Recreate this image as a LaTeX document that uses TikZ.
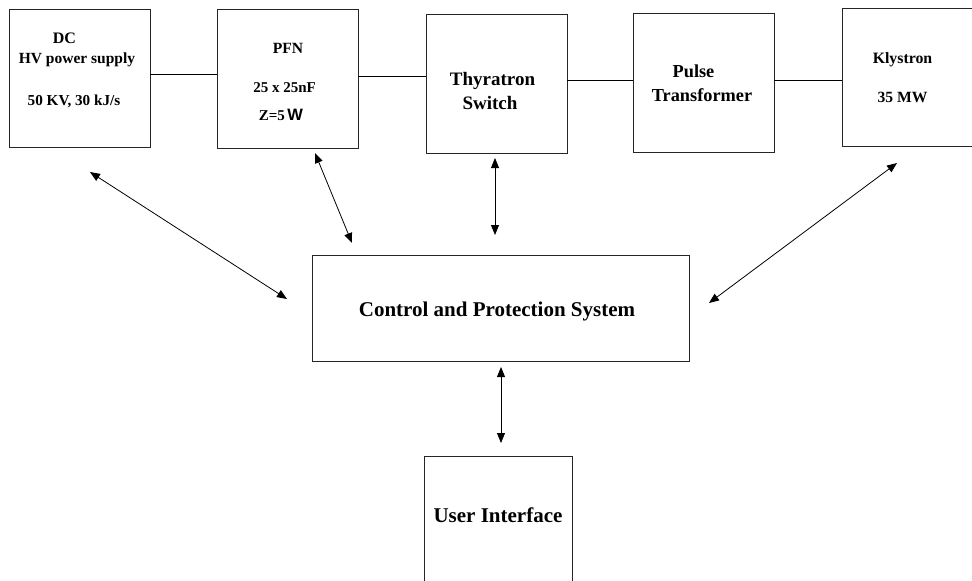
\documentclass[tikz,border=0pt]{standalone}
\usepackage{fontspec}
\setmainfont{Liberation Serif}
\newfontfamily\wsans{Liberation Sans}
\usetikzlibrary{arrows.meta}
\begin{document}
\begin{tikzpicture}[x=1pt,y=-1pt,
  box/.style={draw=black!85, line width=0.85pt, rectangle, inner sep=0pt, outer sep=0pt},
  lbl/.style={anchor=base, inner sep=0pt, outer sep=0pt, font=\bfseries},
  link/.style={line width=0.8pt},
  biarrow/.style={line width=0.8pt, {Triangle[length=10pt,width=8pt]}-{Triangle[length=10pt,width=8pt]}}]
\clip (0,0) rectangle (972,581);
\fill[white] (0,0) rectangle (972,581);

% boxes
\node[box, minimum width=141pt, minimum height=138pt] (dc) at (79.5,78) {};
\node[box, minimum width=141pt, minimum height=139pt] (pfn) at (287.5,78.5) {};
\node[box, minimum width=141pt, minimum height=139pt] (thy) at (496.5,83.5) {};
\node[box, minimum width=141pt, minimum height=139pt] (pulse) at (703.5,82.5) {};
\node[box, minimum width=143pt, minimum height=138pt] (kly) at (913.5,77) {};
\node[box, minimum width=377pt, minimum height=106pt] (cps) at (500.5,308) {};
\node[box, minimum width=148pt, minimum height=144pt] (ui) at (498,528) {};

% texts
\node[lbl, font=\bfseries\fontsize{16}{18}\selectfont] (t1) at (64.5,43) {DC};
\node[lbl, font=\bfseries\fontsize{15.5}{18}\selectfont] (t2) at (77,63) {HV power supply};
\node[lbl, font=\bfseries\fontsize{15.2}{18}\selectfont] (t3) at (74,105) {50 KV, 30 kJ/s};
\node[lbl, font=\bfseries\fontsize{15.6}{18}\selectfont] (t4) at (288,53) {PFN};
\node[lbl, font=\bfseries\fontsize{15}{18}\selectfont] (t5) at (284.5,92) {25 x 25nF};
\node[lbl, font=\bfseries\fontsize{15}{18}\selectfont] (t6) at (281,120) {Z=5\,{\wsans\fontsize{16.5}{18}\selectfont W}};
\node[lbl, font=\bfseries\fontsize{19}{22}\selectfont] (t7) at (492.5,85) {Thyratron};
\node[lbl, font=\bfseries\fontsize{19}{22}\selectfont] (t8) at (490,109) {Switch};
\node[lbl, font=\bfseries\fontsize{18.3}{22}\selectfont] (t9) at (693.5,77) {Pulse};
\node[lbl, font=\bfseries\fontsize{18.3}{22}\selectfont] (t10) at (702,101) {Transformer};
\node[lbl, font=\bfseries\fontsize{15.8}{18}\selectfont] (t11) at (902.5,63) {Klystron};
\node[lbl, font=\bfseries\fontsize{15.6}{18}\selectfont] (t12) at (902.5,102) {35 MW};
\node[lbl, font=\bfseries\fontsize{21}{24}\selectfont] (t13) at (497,316) {Control and Protection System};
\node[lbl, font=\bfseries\fontsize{21}{24}\selectfont] (t14) at (498,522) {User Interface};

% horizontal links
\coordinate (h1) at (0,74);
\coordinate (h2) at (0,76);
\coordinate (h3) at (0,80);
\draw[link] (dc.east |- h1) -- (pfn.west |- h1);
\draw[link] (pfn.east |- h2) -- (thy.west |- h2);
\draw[link] (thy.east |- h3) -- (pulse.west |- h3);
\draw[link] (pulse.east |- h3) -- (kly.west |- h3);

% bidirectional arrows
\coordinate (a1s) at (90,172);  \coordinate (a1e) at (287,299);
\coordinate (a2s) at (315,153); \coordinate (a2e) at (352,243);
\coordinate (a3s) at (495,158); \coordinate (a3e) at (495,235);
\coordinate (a4s) at (897,163); \coordinate (a4e) at (709,303);
\coordinate (a5s) at (501,367); \coordinate (a5e) at (501,443);
\draw[biarrow] (a1s) -- (a1e);
\draw[biarrow] (a2s) -- (a2e);
\draw[biarrow] (a3s) -- (a3e);
\draw[biarrow] (a4s) -- (a4e);
\draw[biarrow] (a5s) -- (a5e);
\end{tikzpicture}
\end{document}
